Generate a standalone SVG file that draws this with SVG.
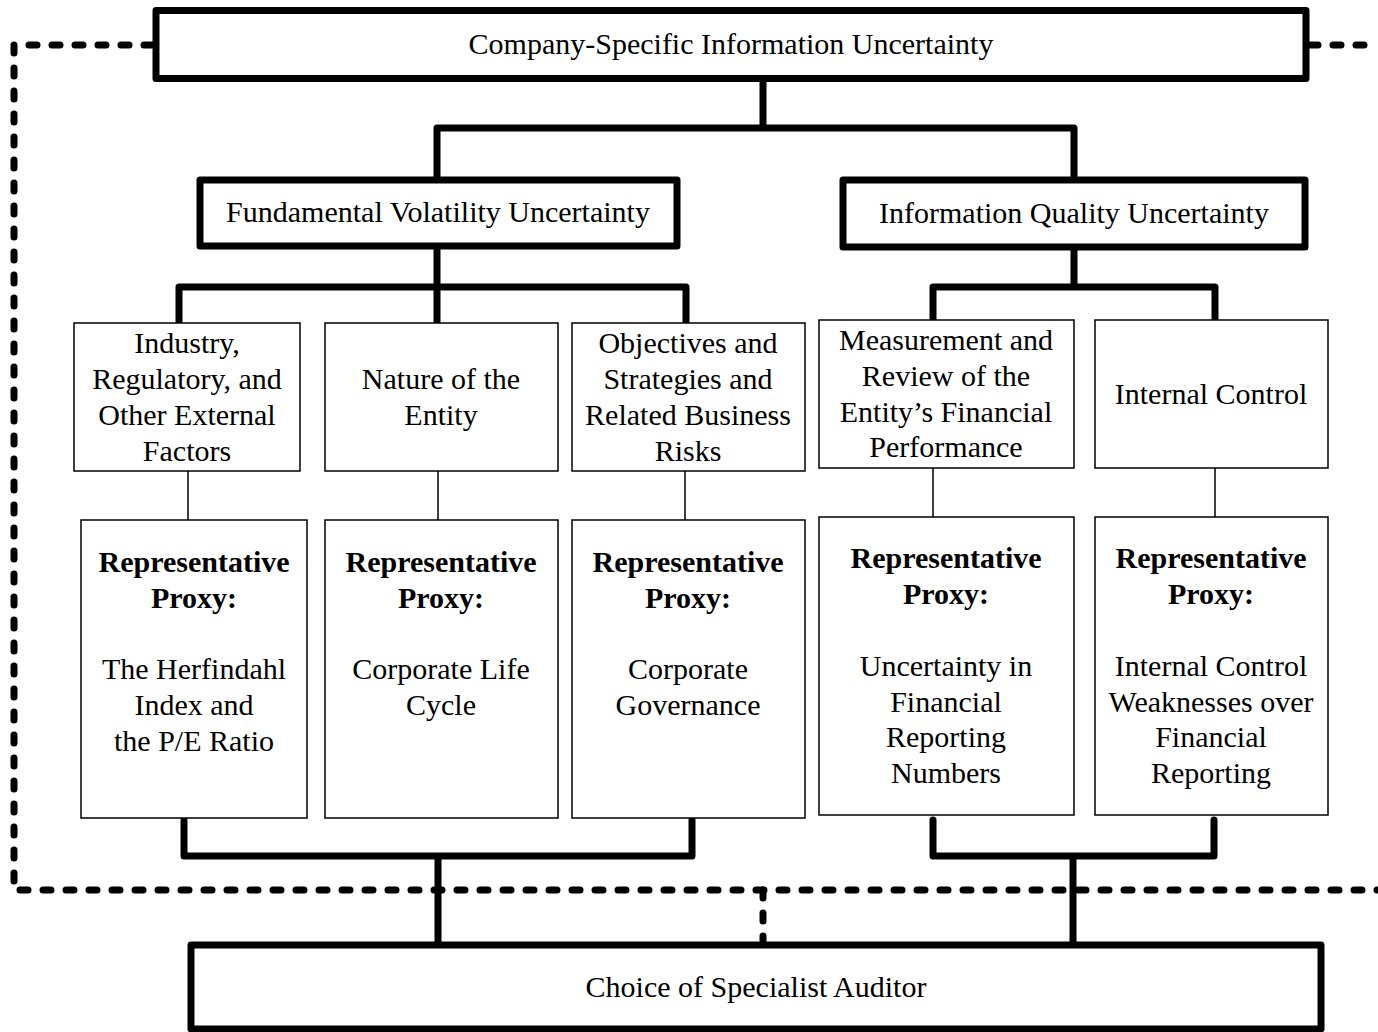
<svg xmlns="http://www.w3.org/2000/svg" width="1378" height="1032" viewBox="0 0 1378 1032">
<style>
.thick{fill:#fff;stroke:#000;stroke-width:7;stroke-linejoin:round}
.thin{fill:#fff;stroke:#000;stroke-width:1.5}
.ln{fill:none;stroke:#000;stroke-width:7;stroke-linejoin:round;stroke-linecap:round}
.tl{fill:none;stroke:#000;stroke-width:1.5}
.dash{fill:none;stroke:#000;stroke-width:7;stroke-linecap:round;stroke-linejoin:round;stroke-dasharray:8 15}
text{font-family:"Liberation Serif","Times New Roman",serif;font-size:30px;fill:#000;text-anchor:middle}
.b{font-weight:bold}
</style>
<rect width="1378" height="1032" fill="#fff"/>
<g id="connectors">
<path class="dash" d="M152,45 H14 V890 H1378"/>
<path class="dash" d="M1310,45 H1378"/>
<path class="dash" d="M763,890 V945"/>
<path class="ln" d="M763,79 V128 M437,180 V128 H1074 V180"/>
<path class="ln" d="M437,246 V323 M179,323 V287 H686 V323"/>
<path class="ln" d="M1074,247 V287 M933,320 V287 H1215 V320"/>
<path class="tl" d="M188,471 V520 M438,471 V520 M685,471 V520 M933,468 V517 M1215,468 V517"/>
<path class="ln" d="M184,820 V856 H692 V820 M438,856 V946"/>
<path class="ln" d="M933,820 V856 H1214 V820 M1073,856 V946"/>
</g>
<g id="n-top"><rect class="thick" x="156" y="10.5" width="1150" height="68"/><text x="731" y="54">Company-Specific Information Uncertainty</text></g>
<g id="n-fund"><rect class="thick" x="200" y="180" width="477" height="66"/><text x="438" y="222">Fundamental Volatility Uncertainty</text></g>
<g id="n-info"><rect class="thick" x="843" y="180" width="462" height="67"/><text x="1074" y="223">Information Quality Uncertainty</text></g>
<g id="n-industry"><rect class="thin" x="74" y="323" width="226" height="148"/><text x="187" y="353">Industry,</text><text x="187" y="389">Regulatory, and</text><text x="187" y="425">Other External</text><text x="187" y="461">Factors</text></g>
<g id="n-nature"><rect class="thin" x="325" y="323" width="233" height="148"/><text x="441" y="389">Nature of the</text><text x="441" y="425">Entity</text></g>
<g id="n-objectives"><rect class="thin" x="572" y="323" width="233" height="148"/><text x="688" y="353">Objectives and</text><text x="688" y="389">Strategies and</text><text x="688" y="425">Related Business</text><text x="688" y="461">Risks</text></g>
<g id="n-measurement"><rect class="thin" x="819" y="320" width="255" height="148"/><text x="946" y="350">Measurement and</text><text x="946" y="386">Review of the</text><text x="946" y="422">Entity’s Financial</text><text x="946" y="457">Performance</text></g>
<g id="n-internal"><rect class="thin" x="1095" y="320" width="233" height="148"/><text x="1211" y="404">Internal Control</text></g>
<g id="p-herf"><rect class="thin" x="81" y="520" width="226" height="298"/><text class="b" x="194" y="572">Representative</text><text class="b" x="194" y="608">Proxy:</text><text x="194" y="679">The Herfindahl</text><text x="194" y="715">Index and</text><text x="194" y="751">the P/E Ratio</text></g>
<g id="p-life"><rect class="thin" x="325" y="520" width="233" height="298"/><text class="b" x="441" y="572">Representative</text><text class="b" x="441" y="608">Proxy:</text><text x="441" y="679">Corporate Life</text><text x="441" y="715">Cycle</text></g>
<g id="p-gov"><rect class="thin" x="572" y="520" width="233" height="298"/><text class="b" x="688" y="572">Representative</text><text class="b" x="688" y="608">Proxy:</text><text x="688" y="679">Corporate</text><text x="688" y="715">Governance</text></g>
<g id="p-unc"><rect class="thin" x="819" y="517" width="255" height="298"/><text class="b" x="946" y="568">Representative</text><text class="b" x="946" y="604">Proxy:</text><text x="946" y="676">Uncertainty in</text><text x="946" y="712">Financial</text><text x="946" y="747">Reporting</text><text x="946" y="783">Numbers</text></g>
<g id="p-icw"><rect class="thin" x="1095" y="517" width="233" height="298"/><text class="b" x="1211" y="568">Representative</text><text class="b" x="1211" y="604">Proxy:</text><text x="1211" y="676">Internal Control</text><text x="1211" y="712">Weaknesses over</text><text x="1211" y="747">Financial</text><text x="1211" y="783">Reporting</text></g>
<g id="n-choice"><rect class="thick" x="191" y="945" width="1130" height="84"/><text x="756" y="997">Choice of Specialist Auditor</text></g>
</svg>
